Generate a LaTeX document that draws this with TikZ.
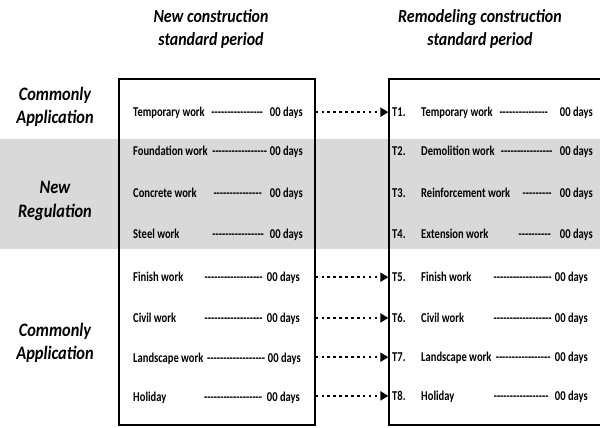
\documentclass[tikz,border=0pt]{standalone}
\usepackage{fontspec}
\setmainfont{Carlito}[FakeStretch=0.86]
\newfontfamily\rowfont{Carlito}[FakeStretch=0.78]
\usetikzlibrary{arrows.meta,positioning}
\definecolor{regGray}{HTML}{D9D9D9}
% a run of hyphens filling a fixed width
\newcommand\dashfill[1]{\hbox to #1pt{\cleaders\hbox{-}\hfill}}
\tikzset{
  frame/.style ={draw=black,line width=1.3pt,inner sep=0pt},
  head/.style  ={font=\fontsize{18.5}{23.5}\selectfont\bfseries\itshape,align=center},
  side/.style  ={font=\fontsize{19}{23.5}\selectfont\bfseries\itshape,align=center},
  item/.style  ={font=\rowfont\fontsize{13.5}{16}\selectfont\bfseries,inner sep=0pt,anchor=base west},
  days/.style  ={item,anchor=base east},
  link/.style  ={line width=2.6pt,dash pattern=on 2.6pt off 3.3pt,
                 -{Triangle[length=8pt,width=9pt]}},
}
\begin{document}
\begin{tikzpicture}[x=1pt,y=-1pt]
\clip (0,0) rectangle (600,428);
\fill[white] (0,0) rectangle (600,428);

%% band for the new regulation rows
\fill[regGray] (0,139) rectangle (600,249);

\node[frame,minimum width=196pt,minimum height=346pt] (lbox) at (217,252) {};
\node[frame,minimum width=217pt,minimum height=346pt] (rbox) at (497.5,252) {};

\node[head] (ltitle) at (211,29) {New construction\\standard period};
\node[head] (rtitle) at (480,29) {Remodeling construction\\standard period};

\node[side] (common1) at (55,107) {Commonly\\Application};
\node[side] (newreg)  at (55,201) {New\\Regulation};
\node[side] (common2) at (55,343) {Commonly\\Application};

%% new construction items
\foreach \i/\y/\n/\ds/\dw/\de in {
  1/116.5/Temporary work/211/52/303,
  2/155.5/Foundation work/212/55/303,
  3/197.5/Concrete work/212/51/303,
  4/238.5/Steel work/212/52/303,
  5/281.5/Finish work/204/59/300,
  6/322.5/Civil work/204/59/300,
  7/362.5/Landscape work/206/60/301,
  8/401.5/Holiday/203/60/300} {
  \node[item] (ln\i) at (133,\y) {\n};
  \node[item] (lf\i) at (\ds,\y) {\dashfill{\dw}};
  \node[days] (ld\i) at (\de,\y) {00 days};
}

%% remodeling items
\foreach \i/\y/\n/\ds/\dw/\de in {
  1/116.5/Temporary work/499/49/593,
  2/155.5/Demolition work/500/53/593,
  3/197.5/Reinforcement work/522/30/593,
  4/238.5/Extension work/517/35/593,
  5/281.5/Finish work/493/59/588,
  6/322.5/Civil work/493/59/588,
  7/361.5/Landscape work/494/58/588,
  8/400.5/Holiday/492/58/588} {
  \node[item] (t\i)  at (392,\y) {T\i.};
  \node[item] (rn\i) at (421,\y) {\n};
  \node[item] (rf\i) at (\ds,\y) {\dashfill{\dw}};
  \node[days] (rd\i) at (\de,\y) {00 days};
}

%% items carried over unchanged
\foreach \i in {1,5,6,7,8}
  \draw[link] (lbox.east |- t\i.center) -- (rbox.west |- t\i.center);
\end{tikzpicture}
\end{document}
